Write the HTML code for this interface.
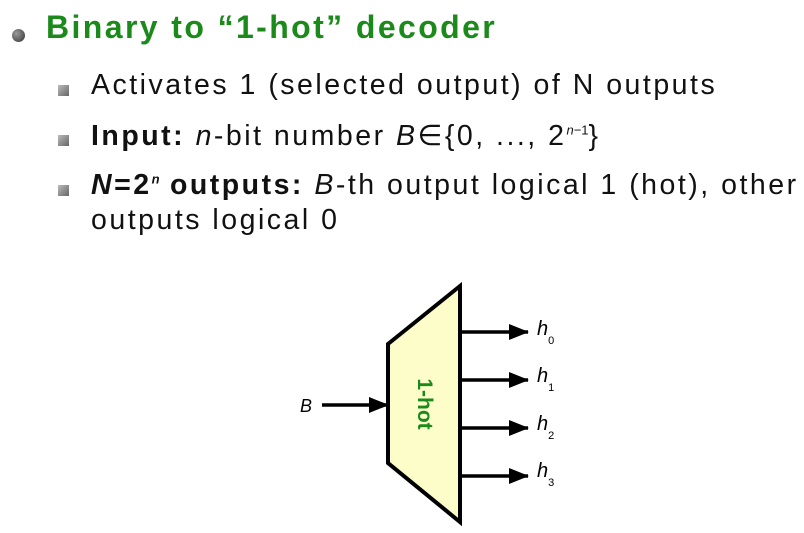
<!DOCTYPE html>
<html><head><meta charset="utf-8"><style>
body{margin:0;width:804px;height:533px;background:#fff;position:relative;overflow:hidden;font-family:"Liberation Sans",sans-serif;}
.t{position:absolute;white-space:nowrap;}
.title{left:46px;top:9px;font-size:32px;font-weight:bold;color:#1b8a1b;letter-spacing:2.4px;}
.sb{position:absolute;width:11px;height:11px;background:linear-gradient(135deg,#bbb,#666);}
.l{font-size:28.5px;color:#111;left:91px;letter-spacing:2.5px;}
sup{font-size:13px;letter-spacing:0;}
</style></head><body>
<div style="position:absolute;left:12px;top:29px;width:13px;height:13px;border-radius:50%;background:radial-gradient(circle at 35% 35%,#999,#333);"></div>
<div class="t title">Binary to “1-hot” decoder</div>
<div class="sb" style="left:58px;top:85px"></div>
<div class="t l" style="top:69px">Activates 1 (selected output) of N outputs</div>
<div class="sb" style="left:58px;top:135px"></div>
<div class="t l" style="top:119px"><b>Input:</b> <i>n</i>-bit number <i>B</i>∈{0, ..., 2<sup><i>n</i>−1</sup>}</div>
<div class="sb" style="left:58px;top:185px"></div>
<div class="t l" style="top:169px"><b><i>N</i>=2<sup><i>n</i></sup> outputs:</b> <i>B</i>-th output logical 1 (hot), other</div>
<div class="t l" style="top:204px">outputs logical 0</div>
<svg width="804" height="533" style="position:absolute;left:0;top:0">
<defs><marker id="ar" markerWidth="20" markerHeight="16" refX="19" refY="8" orient="auto" markerUnits="userSpaceOnUse"><path d="M0,0L20,8L0,16Z" fill="#000"/></marker></defs>
<polygon points="388,344 460,286 460,522 388,463" fill="#fdfdc9" stroke="#000" stroke-width="4"/>
<text transform="translate(418,404) rotate(90)" text-anchor="middle" font-family="Liberation Sans" font-weight="bold" font-size="21" fill="#1b8a1b">1-hot</text>
<line x1="322" y1="405" x2="388" y2="405" stroke="#000" stroke-width="3.5" marker-end="url(#ar)"/>
<text x="300" y="412" font-family="Liberation Sans" font-style="italic" font-size="18">B</text>
<g font-family="Liberation Sans" font-style="italic" font-size="20">
<line x1="460" y1="332" x2="528" y2="332" stroke="#000" stroke-width="3.5" marker-end="url(#ar)"/>
<text x="537" y="335">h<tspan font-size="11" dy="9" font-style="normal">0</tspan></text>
<line x1="460" y1="380" x2="528" y2="380" stroke="#000" stroke-width="3.5" marker-end="url(#ar)"/>
<text x="537" y="382">h<tspan font-size="11" dy="9" font-style="normal">1</tspan></text>
<line x1="460" y1="428" x2="528" y2="428" stroke="#000" stroke-width="3.5" marker-end="url(#ar)"/>
<text x="537" y="430">h<tspan font-size="11" dy="9" font-style="normal">2</tspan></text>
<line x1="460" y1="476" x2="528" y2="476" stroke="#000" stroke-width="3.5" marker-end="url(#ar)"/>
<text x="537" y="477">h<tspan font-size="11" dy="9" font-style="normal">3</tspan></text>
</g>
</svg>
</body></html>
